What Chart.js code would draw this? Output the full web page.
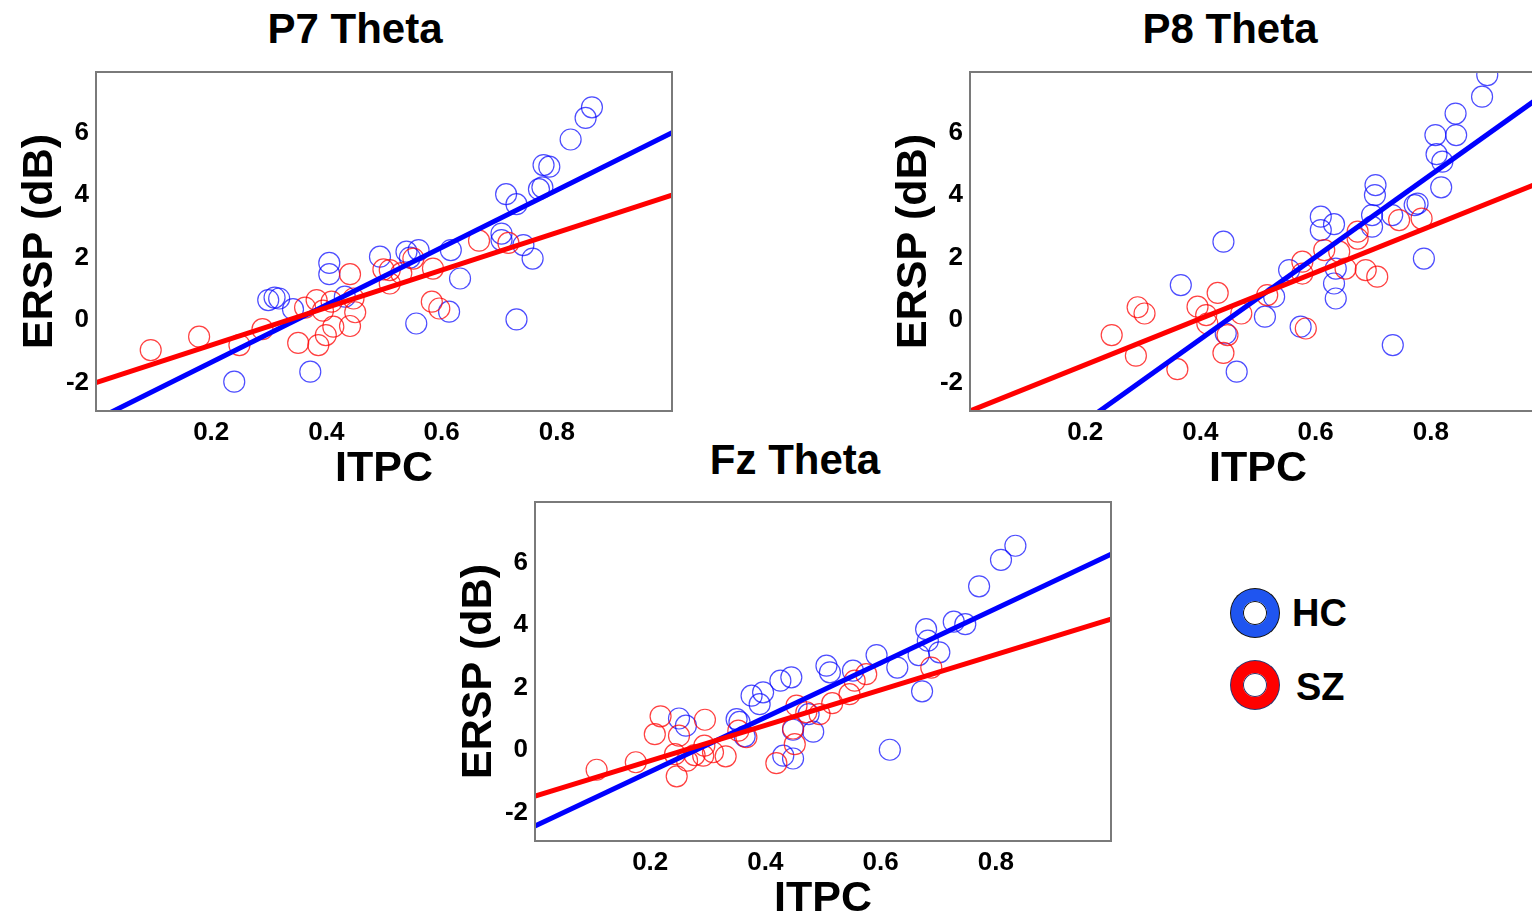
<!DOCTYPE html>
<html>
<head>
<meta charset="utf-8">
<script src="https://cdn.jsdelivr.net/npm/chart.js@4.4.1/dist/chart.umd.min.js"></script>
<style>
  body { margin: 0; width: 1532px; height: 923px; overflow: hidden; background: #fff; position: relative;
         font-family: "Liberation Sans", Arial, sans-serif; }
  canvas { position: absolute; }
  .title { position: absolute; width: 400px; text-align: center; font-weight: bold; font-size: 42px; line-height: 42px; color: #000; }
  .key { position: absolute; font-weight: bold; font-size: 38px; line-height: 38px; color: #000; }
  .ring { position: absolute; width: 48px; height: 48px; box-sizing: border-box; border-radius: 50%; border: 12px solid;
          background: #fff; box-shadow: 0 0 0 1px #111, inset 0 0 0 1px #111; }
</style>
</head>
<body>
<div class="title" style="left:155px; top:8px;">P7 Theta</div>
<div class="title" style="left:1030px; top:8px;">P8 Theta</div>
<div class="title" style="left:595px; top:439px;">Fz Theta</div>

<canvas id="p7" width="700" height="500" style="left:0px; top:0px;"></canvas>
<canvas id="p8" width="700" height="500" style="left:874px; top:0px;"></canvas>
<canvas id="fz" width="700" height="500" style="left:439px; top:430px;"></canvas>

<div class="ring" style="left:1231px; top:589px; border-color:#1f55f0;"></div>
<div class="key" style="left:1292px; top:594px;">HC</div>
<div class="ring" style="left:1231px; top:661px; border-color:#ff0000; box-shadow: 0 0 0 1px #2a3570, inset 0 0 0 1px #2a3570;"></div>
<div class="key" style="left:1296px; top:668px;">SZ</div>

<script>
const xTicks = [0.2, 0.4, 0.6, 0.8];
const yTicks = [-2, 0, 2, 4, 6];

// P7 theta
const p7HcX = [0.240, 0.372, 0.299, 0.318, 0.310, 0.342, 0.405, 0.405, 0.432, 0.493, 0.539, 0.560, 0.545, 0.556, 0.613, 0.616,
               0.632, 0.704, 0.704, 0.742, 0.758, 0.730, 0.712, 0.730, 0.769, 0.775, 0.777, 0.787, 0.824, 0.850, 0.861];
const p7HcY = [-1.97, -1.65, 0.64, 0.69, 0.72, 0.35, 1.83, 1.47, 0.75, 2.03, 2.19, 2.24, 2.00, -0.11, 0.27, 2.24,
               1.33, 2.77, 2.56, 2.40, 1.97, 0.02, 4.03, 3.71, 4.19, 4.25, 4.96, 4.91, 5.78, 6.47, 6.81];
const p7SzX = [0.095, 0.179, 0.249, 0.289, 0.351, 0.386, 0.399, 0.363, 0.383, 0.394, 0.412, 0.409, 0.441, 0.441, 0.450, 0.447,
               0.499, 0.510, 0.510, 0.551, 0.585, 0.583, 0.596, 0.665, 0.716, 0.530];
const p7SzY = [-0.96, -0.53, -0.80, -0.29, -0.73, -0.80, -0.48, 0.40, 0.64, 0.30, -0.21, 0.59, 1.47, -0.19, 0.25, 0.69,
               1.62, 1.60, 1.17, 1.97, 1.65, 0.59, 0.37, 2.54, 2.47, 1.50];
const p7FitHc = [-3.19, 9.19];   // intercept, slope
const p7FitSz = [-2.00, 6.00];

// P8 theta
const p8HcX = [0.366, 0.440, 0.444, 0.463, 0.512, 0.528, 0.554, 0.574, 0.609, 0.609, 0.632, 0.635, 0.632, 0.635, 0.698, 0.698,
               0.703, 0.704, 0.733, 0.777, 0.772, 0.788, 0.734, 0.818, 0.820, 0.810, 0.808, 0.844, 0.843, 0.889, 0.898];
const p8HcY = [1.12, 2.51, -0.43, -1.65, 0.11, 0.75, 1.60, -0.21, 3.31, 2.88, 3.07, 1.65, 1.17, 0.69, 3.36, 2.99,
               4.00, 4.32, 3.36, 3.73, 3.68, 1.97, -0.80, 4.25, 5.07, 5.31, 5.92, 5.92, 6.61, 7.15, 7.84];
const p8SzX = [0.246, 0.288, 0.291, 0.303, 0.360, 0.395, 0.410, 0.412, 0.430, 0.440, 0.447, 0.471, 0.516, 0.577, 0.577, 0.583,
               0.615, 0.641, 0.652, 0.673, 0.673, 0.687, 0.707, 0.745, 0.784];
const p8SzY = [-0.48, -1.14, 0.41, 0.21, -1.57, 0.43, 0.16, -0.11, 0.87, -1.05, -0.48, 0.21, 0.80, 1.87, 1.49, -0.27,
               2.24, 2.19, 1.65, 2.83, 2.61, 1.60, 1.39, 3.20, 3.25];
const p8FitHc = [-5.87, 13.15];
const p8FitSz = [-2.91, 7.39];

// Fz theta
const fzHcX = [0.250, 0.262, 0.350, 0.355, 0.364, 0.376, 0.390, 0.396, 0.426, 0.445, 0.431, 0.448, 0.448, 0.483, 0.506, 0.512,
               0.552, 0.593, 0.629, 0.616, 0.666, 0.672, 0.679, 0.682, 0.702, 0.727, 0.747, 0.771, 0.809, 0.834, 0.475];
const fzHcY = [1.01, 0.78, 0.99, 0.90, 0.44, 1.74, 1.47, 1.85, 2.22, 2.33, -0.18, -0.27, 0.65, 0.59, 2.70, 2.49,
               2.54, 3.04, 2.64, 0.01, 3.04, 1.88, 3.87, 3.50, 3.13, 4.11, 4.03, 5.24, 6.09, 6.54, 1.15];
const fzSzX = [0.107, 0.175, 0.208, 0.218, 0.243, 0.246, 0.250, 0.264, 0.277, 0.292, 0.294, 0.295, 0.309, 0.331, 0.353, 0.367,
               0.419, 0.448, 0.451, 0.454, 0.471, 0.494, 0.516, 0.546, 0.555, 0.575, 0.688];
const fzSzY = [-0.63, -0.39, 0.51, 1.08, -0.13, -0.84, 0.46, -0.34, -0.16, -0.18, 0.14, 0.97, -0.07, -0.20, 0.62, 0.41,
               -0.42, 0.69, 0.19, 1.42, 1.21, 1.15, 1.50, 1.79, 2.22, 2.43, 2.64];
const fzFitHc = [-2.43, 8.70];
const fzFitSz = [-1.47, 5.66];

const fontFamily = '"Liberation Sans", Arial, sans-serif';

function toPoints(xs, ys){
  return xs.map((x, i) => ({ x: x, y: ys[i] }));
}

function fitLine(fit){
  return [{ x: 0, y: fit[0] }, { x: 1, y: fit[0] + fit[1] }];
}

// grey box round the plot area
const framePlugin = {
  id: 'frame',
  afterDatasetsDraw(chart){
    const a = chart.chartArea;
    const ctx = chart.ctx;
    ctx.save();
    ctx.strokeStyle = '#7a7a7a';
    ctx.lineWidth = 2;
    ctx.strokeRect(a.left, a.top, a.right - a.left, a.bottom - a.top);
    ctx.restore();
  }
};

function makePanel(id, hcX, hcY, szX, szY, fitHc, fitSz){
  new Chart(document.getElementById(id), {
    type: 'scatter',
    data: {
      datasets: [
        { data: fitLine(fitSz), showLine: true, borderColor: '#ff0000', borderWidth: 5, pointRadius: 0, order: 0, clip: 0 },
        { data: fitLine(fitHc), showLine: true, borderColor: '#0000ff', borderWidth: 5, pointRadius: 0, order: 1, clip: 0 },
        { data: toPoints(szX, szY), borderColor: 'rgba(255,0,0,0.75)', backgroundColor: 'rgba(0,0,0,0)',
          pointRadius: 10.5, borderWidth: 1.2, order: 2, clip: 0 },
        { data: toPoints(hcX, hcY), borderColor: 'rgba(0,0,255,0.7)', backgroundColor: 'rgba(0,0,0,0)',
          pointRadius: 10.5, borderWidth: 1.2, order: 3, clip: 0 }
      ]
    },
    options: {
      responsive: false,
      animation: false,
      layout: { padding: { left: 0, top: 72, right: 28, bottom: 0 } },
      plugins: { legend: { display: false }, tooltip: { enabled: false } },
      scales: {
        x: {
          type: 'linear', min: 0, max: 1,
          grid: { display: false, drawTicks: false },
          border: { display: false },
          afterBuildTicks: s => { s.ticks = xTicks.map(v => ({ value: v })); },
          afterFit: s => { s.height = 89; },
          ticks: { padding: 6, color: '#000', font: { family: fontFamily, size: 26, weight: 'bold' } },
          title: { display: true, text: 'ITPC', color: '#000', padding: { top: 0, bottom: 5 },
                   font: { family: fontFamily, size: 43, weight: 'bold' } }
        },
        y: {
          type: 'linear', min: -2.91, max: 7.94,
          grid: { display: false, drawTicks: false },
          border: { display: false },
          afterBuildTicks: s => { s.ticks = yTicks.map(v => ({ value: v })); },
          afterFit: s => { s.width = 96; },
          ticks: { padding: 7, color: '#000', font: { family: fontFamily, size: 26, weight: 'bold' } },
          title: { display: true, text: 'ERSP (dB)', color: '#000', padding: { top: 14, bottom: 0 },
                   font: { family: fontFamily, size: 43, weight: 'bold' } }
        }
      }
    },
    plugins: [framePlugin]
  });
}

makePanel('p7', p7HcX, p7HcY, p7SzX, p7SzY, p7FitHc, p7FitSz);
makePanel('p8', p8HcX, p8HcY, p8SzX, p8SzY, p8FitHc, p8FitSz);
makePanel('fz', fzHcX, fzHcY, fzSzX, fzSzY, fzFitHc, fzFitSz);
</script>
</body>
</html>
